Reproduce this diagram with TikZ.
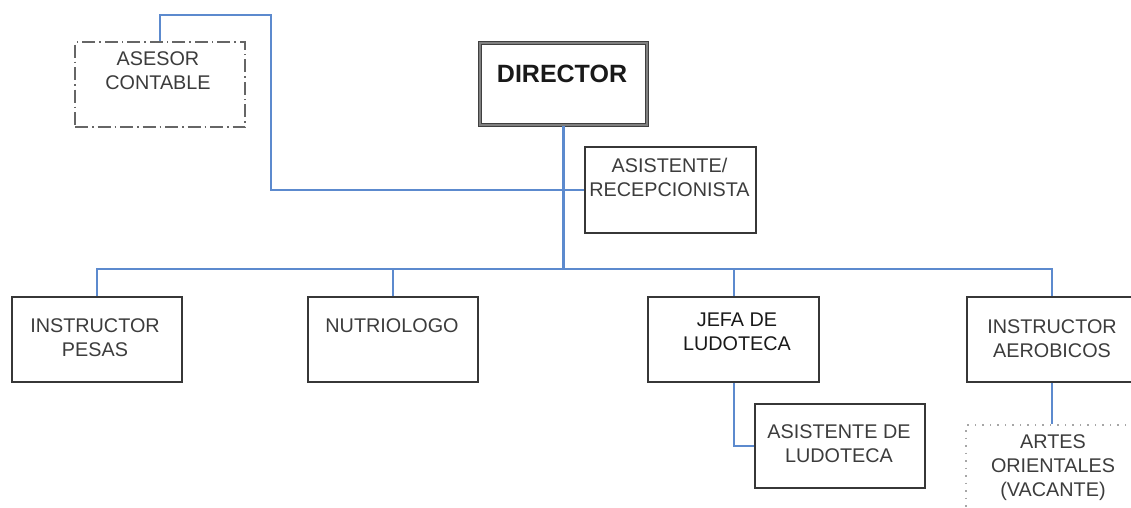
\documentclass[tikz,border=0pt]{standalone}
\usepackage{fontspec}
\setmainfont{Liberation Sans}
\definecolor{conn}{RGB}{92,138,206}
\definecolor{boxline}{RGB}{55,55,55}
\definecolor{txt}{RGB}{60,60,60}
\begin{document}
\begin{tikzpicture}[x=1pt,y=-1pt,
  orgbox/.style={draw=boxline,line width=2pt,rectangle,minimum width=170pt,minimum height=85pt,inner sep=0pt},
  lbl/.style={align=center,text=txt,font=\fontsize{19.8}{24}\selectfont,inner sep=0pt},
  link/.style={draw=conn,line width=2pt},
  dashdotbox/.style={draw=black!60,line width=2.8pt,dash pattern=on 13pt off 4pt on 1.5pt off 4pt,rectangle,minimum width=170pt,minimum height=85pt,inner sep=0pt},
  dotbox/.style={draw=black!35,line width=1.5pt,dash pattern=on 1.5pt off 6pt,rectangle,minimum width=172pt,minimum height=86pt,inner sep=0pt},
  dirbox/.style={draw=black!75,double=black!50,double distance=2pt,line width=1.3pt,rectangle,minimum width=167pt,minimum height=82pt,inner sep=0pt}
]
\path[use as bounding box] (0,0) rectangle (1131,507);
\clip (0,0) rectangle (1131,507);

% boxes
\node[dashdotbox] (asesor) at (160,84.5) {};
\node[dirbox] (director) at (563.5,84) {};
\node[orgbox,minimum width=171pt,minimum height=86pt] (asist) at (670.5,190) {};
\node[orgbox] (pesas) at (97,339.5) {};
\node[orgbox] (nutri) at (393,339.5) {};
\node[orgbox,minimum width=171pt] (jefa) at (733.5,339.5) {};
\node[orgbox,minimum height=84pt] (asisLud) at (840,446) {};
\node[orgbox] (aerob) at (1052,339.5) {};
\node[dotbox] (artes) at (1052,468) {};

% labels
\node[lbl] (asesorT) at (158,70.5) {ASESOR\\CONTABLE};
\node[lbl,text=black!90,font=\fontsize{25}{30}\bfseries] (directorT) at (562,74) {DIRECTOR};
\node[lbl] (asistT) at (669.5,177.5) {ASISTENTE/\\RECEPCIONISTA};
\node[lbl] (pesasT) at (95,338) {INSTRUCTOR\\PESAS};
\node[lbl] (nutriT) at (392,326) {NUTRIOLOGO};
\node[lbl,text=black!90] (jefaT) at (737,331.5) {JEFA DE\\LUDOTECA};
\node[lbl] (asisLudT) at (839,444) {ASISTENTE DE\\LUDOTECA};
\node[lbl] (aerobT) at (1052,338.5) {INSTRUCTOR\\AEROBICOS};
\node[lbl] (artesT) at (1053,467.5) {ARTES\\ORIENTALES\\(VACANTE)};

% connectors
\coordinate (aTurn) at (271,15);
\coordinate (bus) at (563.5,269);
\draw[link] (asesor.north) |- (aTurn) |- (asist.west);
\draw[link,line width=2.5pt] (director.south) -- (bus);
\draw[link] (bus) -| (pesas.north);
\draw[link] (bus) -| (nutri.north);
\draw[link] (bus) -| (jefa.north);
\draw[link] (bus) -| (aerob.north);
\draw[link] (jefa.south) |- (asisLud.west);
\draw[link] (aerob.south) -- (artes.north);
\end{tikzpicture}
\end{document}
